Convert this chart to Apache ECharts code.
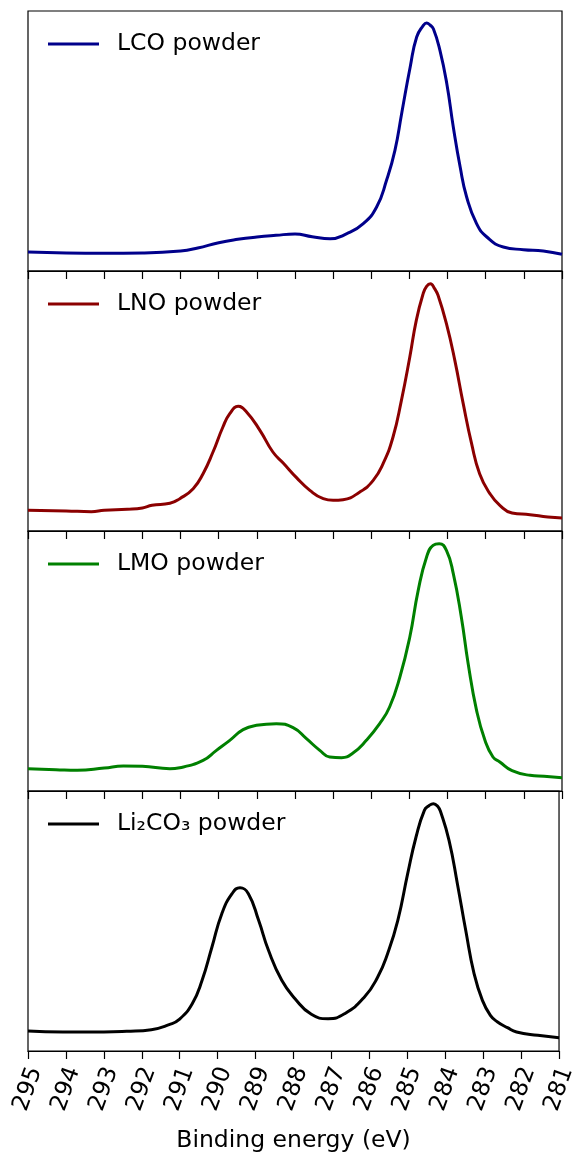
<!DOCTYPE html>
<html>
<head>
<meta charset="utf-8">
<script src="https://cdn.jsdelivr.net/npm/echarts@6/dist/echarts.min.js"></script>
<style>
  html, body { margin: 0; padding: 0; background: #fff; }
  #chart { width: 579px; height: 1154px; }
</style>
</head>
<body>
<div id="chart"></div>
<script>
// ---- Data (binding energy in eV, intensity in arbitrary units) ----
const seriesNames = ['LCO powder', 'LNO powder', 'LMO powder', 'Li₂CO₃ powder'];
const seriesColors = ['#00008b', '#8b0000', '#008000', '#000000'];

const lcoE = [295, 294, 293, 292, 291, 290.55, 290, 289.5, 289, 288.5, 288, 287.55, 287.08, 286.64, 286.21, 285.86, 285.6, 285.38, 285.2, 284.98, 284.81, 284.64, 284.55, 284.46, 284.37, 284.2, 284.02, 283.85, 283.67, 283.5, 283.24, 282.97, 282.54, 282.01, 281.49, 281];
const lcoI = [5.7, 5.4, 5.3, 5.4, 6.0, 6.9, 8.5, 9.5, 10.2, 10.7, 11.1, 10.3, 9.7, 11.2, 14.2, 19.2, 27.2, 36.2, 47.5, 61.2, 70.2, 73.6, 74.4, 73.8, 72.6, 66.2, 56.2, 43.2, 31.2, 22.2, 14.2, 10.2, 7.2, 6.4, 6.0, 5.0];

const lnoE = [295, 294, 293.34, 293, 292.4, 292, 291.75, 291.28, 291.02, 290.67, 290.41, 290.15, 289.89, 289.71, 289.49, 289.27, 288.92, 288.58, 288.31, 287.96, 287.61, 287.26, 287.0, 286.74, 286.3, 285.95, 285.69, 285.43, 285.21, 284.99, 284.82, 284.64, 284.55, 284.45, 284.34, 284.25, 284.03, 283.81, 283.59, 283.37, 283.16, 282.89, 282.63, 282.31, 281.84, 281.37, 281];
const lnoI = [6.2, 6.0, 5.8, 6.2, 6.5, 6.9, 7.7, 8.3, 9.7, 12.7, 17.2, 23.7, 31.2, 35.2, 37.4, 35.7, 30.2, 23.7, 20.4, 16.0, 12.2, 9.7, 9.2, 9.4, 11.7, 15.2, 20.2, 28.2, 39.2, 52.2, 63.2, 71.2, 73.4, 74.2, 72.7, 70.7, 62.2, 51.2, 38.2, 26.2, 17.2, 11.2, 7.7, 5.4, 4.9, 4.2, 3.9];

const lmoE = [295, 294.27, 293.71, 293, 292.5, 292, 291.28, 291.02, 290.41, 290.06, 289.71, 289.36, 289.01, 288.49, 288.05, 287.7, 287.35, 287.09, 286.78, 286.48, 286.13, 285.78, 285.52, 285.25, 284.99, 284.77, 284.55, 284.38, 284.22, 284.03, 283.85, 283.64, 283.46, 283.24, 283.02, 282.81, 282.63, 282.31, 281.84, 281.47, 281];
const lmoI = [6.7, 6.4, 6.2, 6.9, 7.5, 7.4, 6.7, 7.0, 9.2, 12.2, 15.2, 18.4, 19.7, 20.2, 19.0, 15.7, 12.2, 10.2, 10.0, 11.4, 15.2, 20.2, 25.2, 34.2, 46.2, 60.2, 70.2, 73.7, 74.2, 72.2, 65.2, 52.2, 38.2, 24.2, 15.2, 10.2, 8.7, 6.1, 4.7, 4.4, 4.0];

const li2co3E = [295, 294.08, 293, 292.4, 291.75, 291.28, 291.02, 290.67, 290.41, 290.15, 289.89, 289.62, 289.41, 289.19, 288.92, 288.66, 288.31, 287.96, 287.53, 287.09, 286.65, 286.13, 285.78, 285.52, 285.25, 284.99, 284.77, 284.55, 284.43, 284.31, 284.2, 284.12, 283.9, 283.68, 283.46, 283.24, 283.02, 282.81, 282.63, 282.36, 282.12, 281.56, 281];
const li2co3I = [6.0, 5.7, 5.7, 5.9, 6.4, 7.9, 9.4, 14.2, 21.2, 31.2, 41.2, 47.2, 49.0, 47.2, 39.2, 30.2, 21.2, 15.7, 11.0, 9.7, 11.2, 16.2, 22.2, 29.2, 39.2, 53.2, 64.2, 72.2, 73.6, 74.2, 73.4, 71.7, 63.2, 50.2, 36.2, 23.2, 15.2, 10.7, 8.8, 7.0, 5.7, 4.7, 4.0];

const xTicks = [295, 294, 293, 292, 291, 290, 289, 288, 287, 286, 285, 284, 283, 282, 281];
const xLabel = 'Binding energy (eV)';

// ---- Build options ----
const energies = [lcoE, lnoE, lmoE, li2co3E];
const intensities = [lcoI, lnoI, lmoI, li2co3I];
const FONT = 'DejaVu Sans';
const panelTops = [11, 271, 531, 791];
const panelH = 260;

const grids = panelTops.map(t => ({
  left: 28, right: 17, top: t, height: panelH,
  show: true, borderColor: '#000', borderWidth: 1.2, backgroundColor: 'transparent'
}));

const xAxes = panelTops.map((t, i) => {
  const last = i === panelTops.length - 1;
  return {
    type: 'value', gridIndex: i, inverse: true,
    min: xTicks[xTicks.length - 1], max: xTicks[0], interval: 1,
    axisLine: { show: true, lineStyle: { color: '#000', width: 1.2 } },
    axisTick: { show: true, inside: false, length: 8, lineStyle: { color: '#000', width: 1.2 } },
    splitLine: { show: false },
    axisLabel: last ? {
      show: true, rotate: 70, fontSize: 23.5, fontFamily: FONT, color: '#000',
      margin: 38, align: 'center', verticalAlign: 'middle',
      showMinLabel: true, showMaxLabel: true
    } : { show: false },
    name: last ? xLabel : '',
    nameLocation: 'middle', nameGap: 78,
    nameTextStyle: { fontSize: 23.5, fontFamily: FONT, color: '#000' }
  };
});

const yAxes = panelTops.map((t, i) => ({
  type: 'value', gridIndex: i, min: 0, max: 78,
  show: false
}));

const legends = seriesNames.map((n, i) => ({
  data: [n], left: 48, top: panelTops[i] + 21, padding: 0,
  icon: 'rect', itemWidth: 51, itemHeight: 3,
  textStyle: { fontSize: 23.5, fontFamily: FONT, color: '#000', padding: [0, 0, 0, 13] },
  selectedMode: false
}));

const series = seriesNames.map((n, i) => ({
  name: n, type: 'line', xAxisIndex: i, yAxisIndex: i,
  data: energies[i].map((e, k) => [e, intensities[i][k]]),
  showSymbol: false, smooth: 0.5,
  lineStyle: { color: seriesColors[i], width: 3 },
  itemStyle: { color: seriesColors[i] }
}));

const chart = echarts.init(document.getElementById('chart'), null, { renderer: 'canvas' });
chart.setOption({
  animation: false,
  backgroundColor: '#fff',
  grid: grids, xAxis: xAxes, yAxis: yAxes, legend: legends, series: series
});
</script>
</body>
</html>
